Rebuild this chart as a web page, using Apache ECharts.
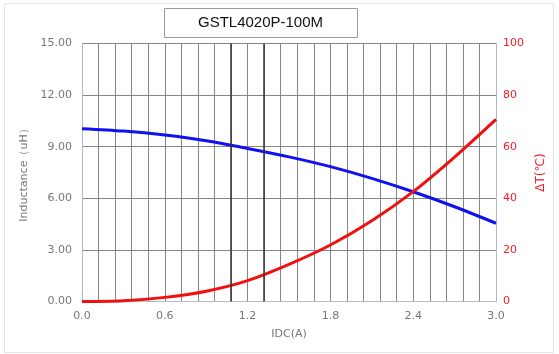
<!DOCTYPE html>
<html>
<head>
<meta charset="utf-8">
<script src="https://cdn.jsdelivr.net/npm/echarts@6/dist/echarts.min.js"></script>
<style>html,body{margin:0;padding:0;background:#fff;}#c{width:559px;height:354px;}</style>
</head>
<body>
<div id="c"></div>
<script>
const titleText = 'GSTL4020P-100M';
const currentA = [0, 0.3, 0.6, 0.9, 1.2, 1.5, 1.8, 2.1, 2.4, 2.7, 3.0];
const inductance = [10.05, 9.91, 9.68, 9.35, 8.90, 8.41, 7.84, 7.16, 6.38, 5.51, 4.55];
const deltaT = [0, 0.3, 1.6, 4.0, 8.1, 14.4, 21.9, 31.3, 42.6, 56.0, 70.6];
const xTickLabels = ['0.0', '0.6', '1.2', '1.8', '2.4', '3.0'];
const leftTickLabels = ['0.00', '3.00', '6.00', '9.00', '12.00', '15.00'];
const rightTickLabels = ['0', '20', '40', '60', '80', '100'];
const darkLinesX = [1.08, 1.32];

const chart = echarts.init(document.getElementById('c'));
const lblFont = 'DejaVu Sans';
chart.setOption({
  animation: false,
  backgroundColor: '#fff',
  graphic: [
    { type: 'rect', shape: { x: 4.5, y: 3.5, width: 549, height: 349 }, style: { fill: 'none', stroke: '#e4e4e4', lineWidth: 1 } },
    { type: 'rect', shape: { x: 164.5, y: 8.5, width: 193, height: 29 }, style: { fill: '#fff', stroke: '#9a9a9a', lineWidth: 1 } },
    { type: 'text', x: 260.5, y: 23, style: { text: titleText, font: '15px "Liberation Sans"', fill: '#111', textAlign: 'center', textVerticalAlign: 'middle' } }
  ],
  grid: { left: 82, right: 63, top: 43.5, bottom: 52.5 },
  xAxis: {
    type: 'value', min: 0, max: 3, interval: 0.12,
    name: 'IDC(A)', nameLocation: 'middle', nameGap: 27,
    nameTextStyle: { color: '#777', fontSize: 11, fontFamily: lblFont },
    axisLine: { show: true, lineStyle: { color: '#bbb' } },
    axisTick: { show: false },
    axisLabel: {
      color: '#777', fontSize: 11, fontFamily: lblFont, margin: 9,
      formatter: v => { const s = v.toFixed(1); return (Math.abs(v / 0.6 - Math.round(v / 0.6)) < 1e-6 && xTickLabels.includes(s)) ? s : ''; }
    },
    splitLine: { show: true, lineStyle: { color: '#858585', width: 1 } }
  },
  yAxis: [
    {
      type: 'value', min: 0, max: 15, interval: 3,
      name: 'Inductance（uH）', nameLocation: 'middle', nameGap: 48, nameRotate: 90,
      nameTextStyle: { color: '#777', fontSize: 11, fontFamily: lblFont },
      axisLine: { show: true, lineStyle: { color: '#a9bccf' } },
      axisTick: { show: false },
      axisLabel: { color: '#777', fontSize: 11, fontFamily: lblFont, margin: 10, formatter: v => leftTickLabels[Math.round(v / 3)] },
      splitLine: { show: true, lineStyle: { color: '#858585', width: 1 } }
    },
    {
      type: 'value', min: 0, max: 100, interval: 20,
      name: 'ΔT(℃)', nameLocation: 'middle', nameGap: 36, nameRotate: 90,
      nameTextStyle: { color: '#f02028', fontSize: 12, fontFamily: lblFont },
      axisLine: { show: true, lineStyle: { color: '#a9bccf' } },
      axisTick: { show: false },
      axisLabel: { color: '#f02028', fontSize: 11, fontFamily: lblFont, margin: 7, formatter: v => rightTickLabels[Math.round(v / 20)] },
      splitLine: { show: false }
    }
  ],
  series: [
    {
      type: 'line', yAxisIndex: 0, smooth: 0.3, symbol: 'none',
      data: currentA.map((x, i) => [x, inductance[i]]),
      lineStyle: { color: '#1010f0', width: 3 },
      markLine: {
        silent: true, symbol: 'none', label: { show: false },
        lineStyle: { color: '#333', width: 1.5, type: 'solid' },
        data: darkLinesX.map(x => ({ xAxis: x }))
      },
      z: 3
    },
    {
      type: 'line', yAxisIndex: 1, smooth: 0.3, symbol: 'none',
      data: currentA.map((x, i) => [x, deltaT[i]]),
      lineStyle: { color: '#f01010', width: 3 },
      z: 4
    }
  ]
});
</script>
</body>
</html>
